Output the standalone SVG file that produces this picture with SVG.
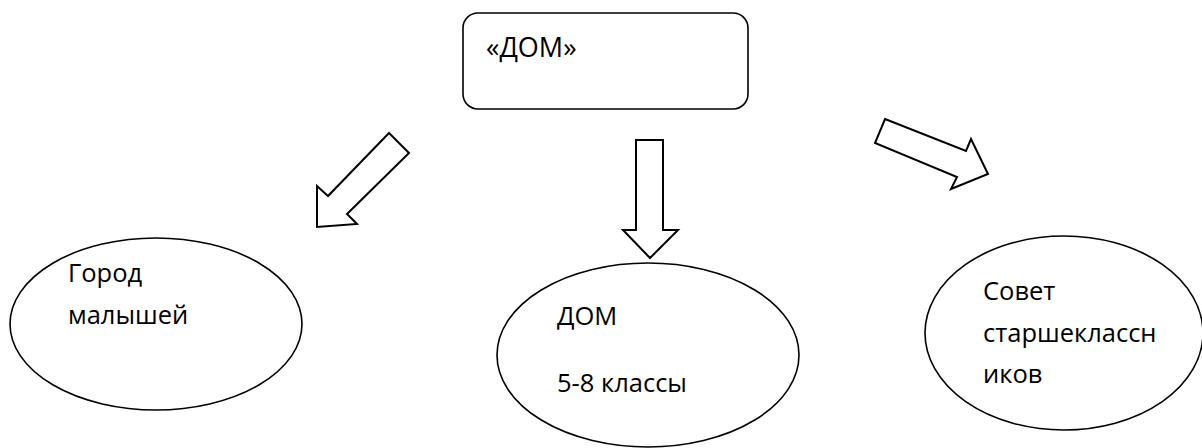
<svg xmlns="http://www.w3.org/2000/svg" width="1202" height="448" viewBox="0 0 1202 448">
<style>
.shape{fill:#fff;stroke:#000;stroke-width:1.6}
.arrow{fill:#fff;stroke:#000;stroke-width:2;stroke-linejoin:miter}
.lbl{font-family:"Open Sans","Noto Sans","DejaVu Sans",sans-serif;font-size:25.5px;fill:#000}
</style>
<rect width="1202" height="448" fill="#fff"/>
<g id="connectors">
<polygon class="arrow" points="389,133 409,153 347,214 357,224 317,227 317,186 328,196"/>
<polygon class="arrow" points="636,140 663,140 663,230 678,230 650,258 623,230 636,230"/>
<polygon class="arrow" points="885,119 966,151 971,139 988,174 951,189 957,177 875,143"/>
</g>
<g id="node-top">
<rect class="shape" x="463" y="13" width="285" height="96" rx="15" ry="15"/>
<text class="lbl" x="486" y="57" style="font-size:27px">«ДОМ»</text>
</g>
<g id="node-left">
<ellipse class="shape" cx="156" cy="324" rx="146" ry="86"/>
<text class="lbl" x="68" y="282">Город</text>
<text class="lbl" x="68" y="324">малышей</text>
</g>
<g id="node-middle">
<ellipse class="shape" cx="648" cy="355" rx="151" ry="92"/>
<text class="lbl" x="557" y="325">ДОМ</text>
<text class="lbl" x="557" y="392">5-8 классы</text>
</g>
<g id="node-right">
<ellipse class="shape" cx="1064" cy="333" rx="139" ry="97"/>
<text class="lbl" x="983" y="300">Совет</text>
<text class="lbl" x="983" y="342">старшеклассн</text>
<text class="lbl" x="983" y="383">иков</text>
</g>
</svg>
